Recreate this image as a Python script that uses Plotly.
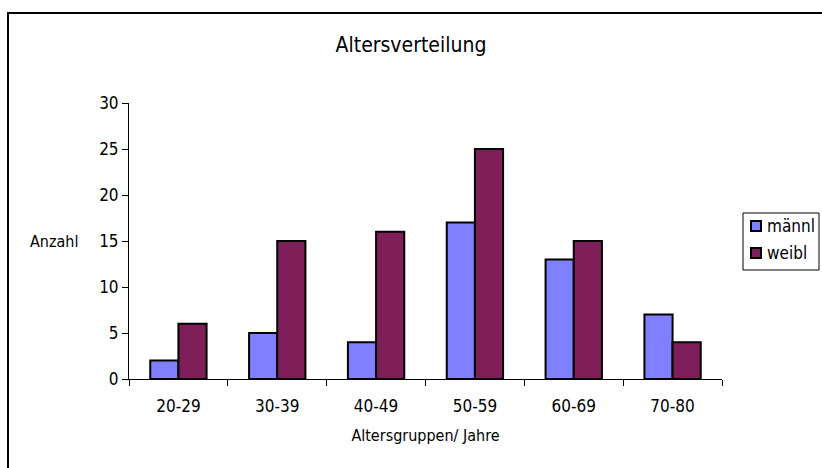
import plotly.graph_objects as go

# Age groups and counts per group
age_groups = ["20-29", "30-39", "40-49", "50-59", "60-69", "70-80"]
maennl = [2, 5, 4, 17, 13, 7]
weibl = [6, 15, 16, 25, 15, 4]
y_ticks = [0, 5, 10, 15, 20, 25, 30]

series = [("männl", maennl, "#8080ff"), ("weibl", weibl, "#7f1f5a")]

W, H = 822, 468
ML, MR, MT, MB = 129, 100, 103, 89
FONT = "DejaVu Sans Condensed, DejaVu Sans, sans-serif"

fig = go.Figure()
for name, vals, color in series:
    fig.add_trace(go.Bar(name=name, x=age_groups, y=vals,
                         marker=dict(color=color, line=dict(color="black", width=2))))

pw = W - ML - MR
ph = H - MT - MB
def px_to_paper_x(px):
    return (px - ML) / pw
def px_to_paper_y(py):
    return (H - MB - py) / ph

fig.update_layout(
    width=W, height=H, autosize=False,
    margin=dict(l=ML, r=MR, t=MT, b=MB, autoexpand=False),
    paper_bgcolor="white", plot_bgcolor="white",
    barmode="group", bargap=0.43, bargroupgap=0,
    font=dict(family=FONT, size=17, color="black"),
    title=dict(text="Altersverteilung", x=0.5, xanchor="center",
               y=1 - 45 / H, yanchor="middle", font=dict(size=21)),
    xaxis=dict(type="category", tickson="boundaries", ticks="outside",
               ticklen=6, tickcolor="black", tickwidth=1, ticklabelstandoff=12,
               showline=True, linecolor="black", linewidth=1,
               showgrid=False, tickfont=dict(size=17), automargin=False,
               title=dict(text="Altersgruppen/ Jahre", font=dict(size=16), standoff=14)),
    yaxis=dict(range=[0, 30], tickvals=y_ticks, ticks="outside",
               ticklen=6, tickcolor="black", tickwidth=1,
               showline=True, linecolor="black", linewidth=1, automargin=False,
               showgrid=False, zeroline=False, tickfont=dict(size=17)),
    showlegend=False,
)

fig.add_annotation(text="Anzahl", xref="paper", yref="paper",
                   x=px_to_paper_x(54), y=px_to_paper_y(241),
                   xanchor="center", yanchor="middle", showarrow=False,
                   font=dict(size=16))

# chart frame (runs off the right and bottom edges)
fig.add_shape(type="rect", xref="paper", yref="paper",
              x0=px_to_paper_x(8), x1=px_to_paper_x(W + 10),
              y0=px_to_paper_y(H + 10), y1=px_to_paper_y(13),
              line=dict(color="black", width=2), layer="below")

# legend box with swatches
fig.add_shape(type="rect", xref="paper", yref="paper",
              x0=px_to_paper_x(743), x1=px_to_paper_x(819),
              y0=px_to_paper_y(270), y1=px_to_paper_y(213),
              line=dict(color="black", width=1), fillcolor="white")
for i, (name, vals, color) in enumerate(series):
    cy = 226 + i * 27
    fig.add_shape(type="rect", xref="paper", yref="paper",
                  x0=px_to_paper_x(751), x1=px_to_paper_x(761),
                  y0=px_to_paper_y(cy + 5), y1=px_to_paper_y(cy - 5),
                  line=dict(color="black", width=2), fillcolor=color)
    fig.add_annotation(text=name, xref="paper", yref="paper",
                       x=px_to_paper_x(765), y=px_to_paper_y(cy),
                       xanchor="left", yanchor="middle", showarrow=False,
                       font=dict(size=17))

fig.write_html("out.html", config={"responsive": False},
               default_width=f"{W}px", default_height=f"{H}px")
